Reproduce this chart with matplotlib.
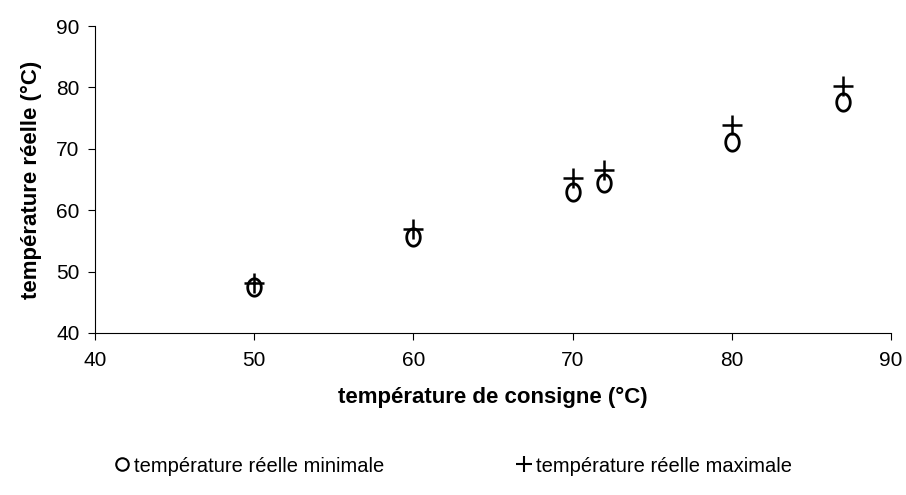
import matplotlib
matplotlib.use("Agg")
import matplotlib.pyplot as plt
import numpy as np
from matplotlib.lines import Line2D
from matplotlib.path import Path

plt.rcParams['font.family'] = ['Liberation Sans', 'DejaVu Sans']

consigne = [50, 60, 70, 72, 80, 87]
t_min = [47.5, 55.7, 63.0, 64.4, 71.1, 77.7]
t_max = [48.2, 56.9, 65.2, 66.5, 73.8, 80.2]

# slightly tall ellipse, like the scanned circles
theta = np.linspace(0, 2 * np.pi, 60)
ellipse = Path(np.column_stack([0.78 * np.cos(theta), np.sin(theta)]), closed=True)

fig = plt.figure(figsize=(9.06, 4.95), dpi=100)
ax = fig.add_axes([95 / 906, 1 - 333 / 495, 796 / 906, 307 / 495])

ax.plot(consigne, t_min, linestyle='none', marker=ellipse, markersize=12.5,
        markerfacecolor='none', markeredgecolor='black', markeredgewidth=2)
ax.plot(consigne, t_max, linestyle='none', marker='+', markersize=15,
        markeredgecolor='black', markeredgewidth=1.8)

ax.set_xlim(40, 90)
ax.set_ylim(40, 90)
ax.set_xticks([40, 50, 60, 70, 80, 90])
ax.set_yticks([40, 50, 60, 70, 80, 90])
ax.spines['top'].set_visible(False)
ax.spines['right'].set_visible(False)
ax.tick_params(direction='out', length=5, labelsize=15, width=0.8)
ax.tick_params(axis='x', pad=8)
ax.tick_params(axis='y', pad=6)

ax.set_xlabel('température de consigne (°C)', fontsize=16, fontweight='bold', labelpad=12)
ax.set_ylabel('température réelle (°C)', fontsize=16, fontweight='bold', labelpad=10)

handles = [
    Line2D([], [], linestyle='none', marker='o', markersize=9, markerfacecolor='none',
           markeredgecolor='black', markeredgewidth=1.5),
    Line2D([], [], linestyle='none', marker='+', markersize=12,
           markeredgecolor='black', markeredgewidth=1.5),
]
fig.legend(handles, ['température réelle minimale', 'température réelle maximale'],
           loc='center', bbox_to_anchor=(0.5, 1 - 466 / 495), ncol=2, frameon=False,
           fontsize=14.5, handletextpad=0.2, columnspacing=6.5, handlelength=0.8)

fig.savefig('out.png', dpi=100)
